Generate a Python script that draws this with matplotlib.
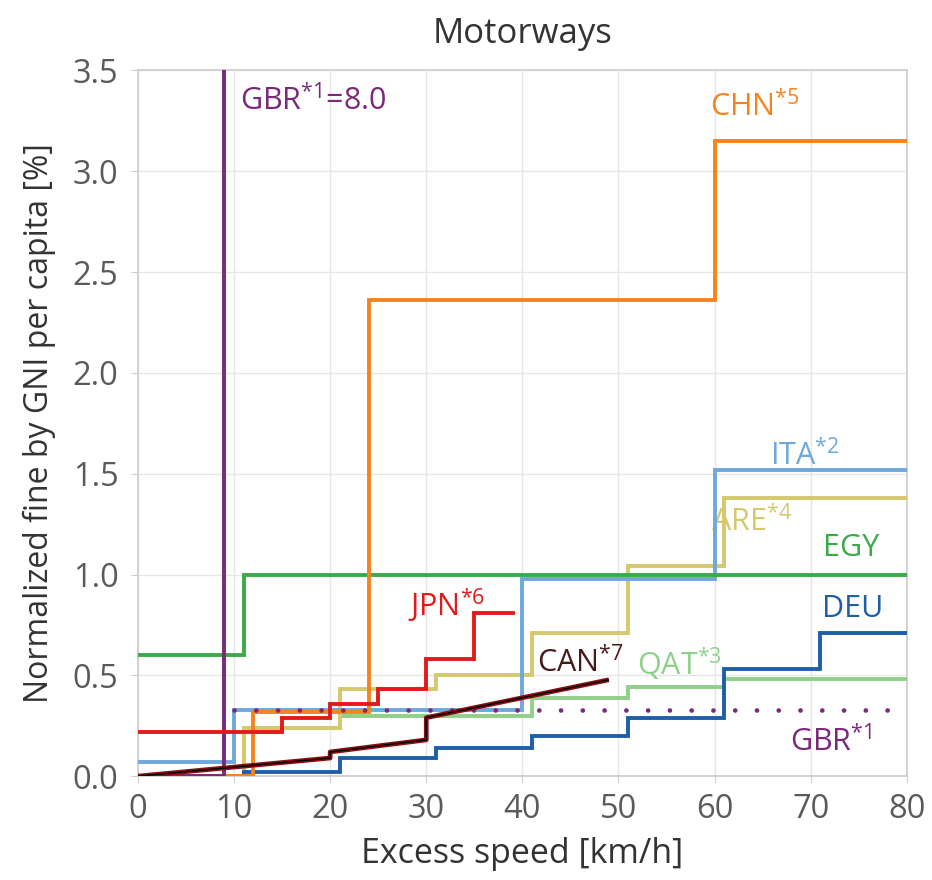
import numpy as np
import matplotlib
matplotlib.use('Agg')
import matplotlib.pyplot as plt

plt.rcParams['font.family'] = ['Open Sans', 'DejaVu Sans']
plt.rcParams['mathtext.fontset'] = 'custom'
plt.rcParams['mathtext.rm'] = 'Open Sans'
plt.rcParams['mathtext.it'] = 'Open Sans'
plt.rcParams['mathtext.default'] = 'regular'

# step breakpoints (km/h) and fine levels (% of GNI per capita) per country
chn_x = [0, 12, 24, 60, 80]
chn_y = [0.0, 0.32, 2.36, 3.15]
ita_x = [0, 10, 40, 60, 80]
ita_y = [0.07, 0.33, 0.98, 1.52]
are_x = [0, 11, 21, 31, 41, 51, 61, 80]
are_y = [0.0, 0.24, 0.43, 0.50, 0.71, 1.04, 1.38]
egy_x = [0, 11, 80]
egy_y = [0.60, 1.00]
deu_x = [0, 11, 21, 31, 41, 51, 61, 71, 80]
deu_y = [0.0, 0.02, 0.09, 0.14, 0.20, 0.29, 0.53, 0.71]
qat_x = [0, 11, 21, 41, 51, 61, 80]
qat_y = [0.0, 0.24, 0.30, 0.39, 0.44, 0.48]
jpn_x = [0, 15, 20, 25, 30, 35, 39]
jpn_y = [0.22, 0.29, 0.36, 0.43, 0.58, 0.81]
gbr_dot_x = [10, 80]
gbr_dot_y = [0.33]
gbr_x = [0, 9, 80]
gbr_y = [0.0, 8.0]
# Canada is a piecewise linear line with jumps, not a step
can_x = [0, 20, 20, 30, 30, 49]
can_y = [0.0, 0.09, 0.12, 0.18, 0.29, 0.478]

c_chn = '#f5841f'
c_ita = '#6fa8dc'
c_are = '#d6c86c'
c_egy = '#3aaa4a'
c_deu = '#1f5fa8'
c_qat = '#8fd08a'
c_jpn = '#e31a1c'
c_gbr = '#7b2a7b'
c_can = '#8b0d0d'


def step(ax, xs, ys, color, z, **kw):
    ax.step(xs, list(ys) + [ys[-1]], where='post', color=color, lw=2.8,
            zorder=z, solid_joinstyle='miter', **kw)


fig = plt.figure(figsize=(9.32, 8.8), dpi=100)
ax = fig.add_axes([0.148, 0.118, 0.825, 0.802])

step(ax, qat_x, qat_y, c_qat, 3)
step(ax, are_x, are_y, c_are, 4)
step(ax, ita_x, ita_y, c_ita, 5)
step(ax, deu_x, deu_y, c_deu, 6)
step(ax, egy_x, egy_y, c_egy, 6)
step(ax, chn_x, chn_y, c_chn, 7)
ax.step(gbr_dot_x, gbr_dot_y + gbr_dot_y, where='post', color=c_gbr, lw=3.4,
        linestyle=(0, (0.01, 4.6)), dash_capstyle='round', zorder=7.5)
step(ax, gbr_x, gbr_y, c_gbr, 8)
step(ax, jpn_x, jpn_y, c_jpn, 9)
ax.plot(can_x, can_y, color=c_can, lw=3.4, zorder=10, solid_capstyle='butt')
ax.plot(can_x, can_y, color='black', lw=1.0, zorder=11, solid_capstyle='butt')

fs = 22
ax.text(10.6, 3.35, 'GBR$^{*1}$=8.0', color=c_gbr, fontsize=fs, va='center')
ax.text(59.5, 3.32, 'CHN$^{*5}$', color=c_chn, fontsize=fs, va='center')
ax.text(65.8, 1.59, 'ITA$^{*2}$', color=c_ita, fontsize=fs, va='center')
ax.text(59.6, 1.26, 'ARE$^{*4}$', color=c_are, fontsize=fs, va='center', zorder=1)
ax.text(71.3, 1.13, 'EGY', color=c_egy, fontsize=fs, va='center')
ax.text(71.2, 0.83, 'DEU', color=c_deu, fontsize=fs, va='center')
ax.text(67.8, 0.17, 'GBR$^{*1}$', color=c_gbr, fontsize=fs, va='center')
ax.text(28.1, 0.85, 'JPN$^{*6}$', color=c_jpn, fontsize=fs, va='center')
ax.text(41.5, 0.56, 'CAN$^{*7}$', color='#4a1a1a', fontsize=fs, va='center')
ax.text(51.9, 0.56, 'QAT$^{*3}$', color=c_qat, fontsize=fs, va='center')

ax.set_xlim(0, 80)
ax.set_ylim(0, 3.5)
ax.set_xticks(np.arange(0, 81, 10))
ax.set_yticks(np.arange(0, 3.51, 0.5))
ax.set_yticklabels(['%.1f' % v for v in np.arange(0, 3.51, 0.5)])
ax.grid(True, color='#e6e6e6', lw=1.0, zorder=0)
ax.set_axisbelow(True)
for s in ax.spines.values():
    s.set_color('#cfcfcf')
    s.set_linewidth(1.3)
ax.tick_params(colors='#cfcfcf', labelcolor='#5a5a5a', labelsize=23.5, length=5)
ax.tick_params(axis='y', pad=9)
ax.tick_params(axis='x', pad=7)

ax.set_xlabel('Excess speed [km/h]', fontsize=24.5, color='#333333', labelpad=8)
ax.set_ylabel('Normalized fine by GNI per capita [%]', fontsize=23, color='#333333', labelpad=12)
ax.set_title('Motorways', fontsize=25, color='#333333', pad=20)

fig.savefig('out.png', dpi=100)
